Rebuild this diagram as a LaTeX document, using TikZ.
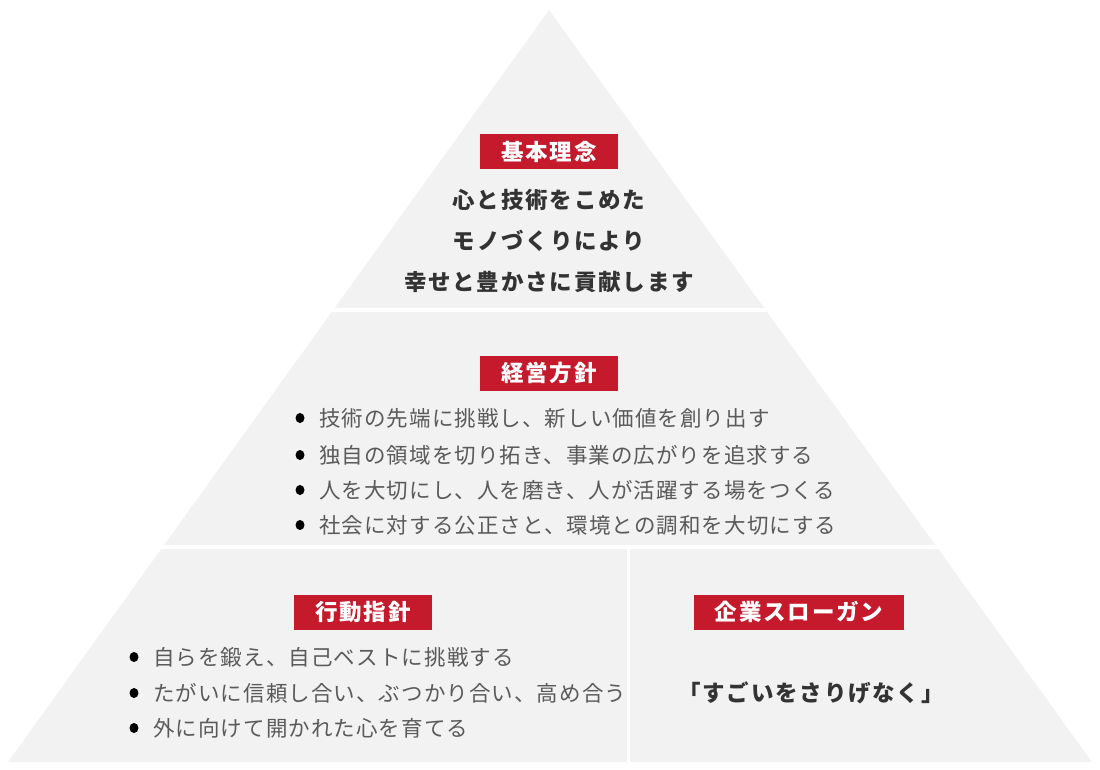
\documentclass[tikz,border=0pt]{standalone}
\usepackage{fontspec}
\newfontfamily\jpitem{Noto Sans CJK JP}[LetterSpace=5]
\newfontfamily\jphead{Noto Sans CJK JP}[LetterSpace=8]
\definecolor{pyr}{HTML}{F2F2F2}
\definecolor{redbox}{HTML}{C41A2B}
\definecolor{darktext}{HTML}{333333}
\definecolor{graytext}{HTML}{5A5A5A}
\usetikzlibrary{shapes.geometric}
\tikzset{
  lbl/.style={fill=redbox, text=white, font=\jphead\bfseries\fontsize{22.5}{22.5}\selectfont,
    minimum height=35pt, inner xsep=21pt, inner ysep=0pt, anchor=center},
  head/.style={text=darktext, font=\jphead\bfseries\fontsize{22.5}{22.5}\selectfont, inner sep=0pt, anchor=center},
  item/.style={text=graytext, font=\jpitem\fontsize{21.5}{21.5}\selectfont, inner sep=0pt, anchor=west},
  dot/.style={ellipse, fill=black, minimum width=9pt, minimum height=10pt, inner sep=0pt},
  gap/.style={white, line width=4pt}
}
\begin{document}
\begin{tikzpicture}[x=1pt,y=-1pt]
\useasboundingbox (0,0) rectangle (1100,770);
\begin{scope}
\clip (549,10) -- (1092,762) -- (8,762) -- cycle;
\fill[pyr] (0,0) rectangle (1100,770);
\draw[gap] (0,310) -- (1100,310);
\draw[gap] (0,547) -- (1100,547);
\draw[white, line width=3pt] (628,547) -- (628,770);
\end{scope}
% top tier
\node[lbl] (t1) at (549,152) {基本理念};
\node[head] (h1) at (549,200) {心と技術をこめた};
\node[head] (h2) at (549,241) {モノづくりにより};
\node[head] (h3) at (549,282) {幸せと豊かさに貢献します};
% middle tier
\node[lbl] (t2) at (549,373) {経営方針};
\foreach \y/\t [count=\i] in {418/技術の先端に挑戦し、新しい価値を創り出す,
  455/独自の領域を切り拓き、事業の広がりを追求する,
  490/人を大切にし、人を磨き、人が活躍する場をつくる,
  525/社会に対する公正さと、環境との調和を大切にする}{
  \node[dot] (md\i) at (300,\y) {};
  \node[item] (m\i) at (319,\y) {\t};
}
% bottom left
\node[lbl] (t3) at (363,612) {行動指針};
\foreach \y/\t [count=\i] in {657/自らを鍛え、自己ベストに挑戦する,
  693/たがいに信頼し合い、ぶつかり合い、高め合う,
  728/外に向けて開かれた心を育てる}{
  \node[dot] (bd\i) at (134,\y) {};
  \node[item] (b\i) at (153,\y) {\t};
}
% bottom right
\node[lbl] (t4) at (799,612) {企業スローガン};
\node[head] (s1) at (811,693) {「すごいをさりげなく」};
\end{tikzpicture}
\end{document}
